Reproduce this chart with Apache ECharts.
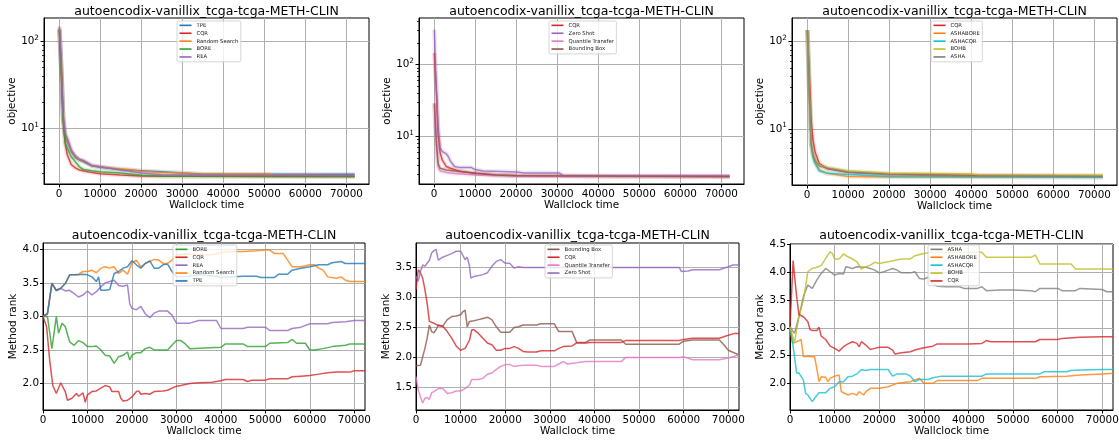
<!DOCTYPE html>
<html><head><meta charset="utf-8">
<script src="https://cdn.jsdelivr.net/npm/echarts@6/dist/echarts.min.js"></script>
<style>html,body{margin:0;padding:0;background:#fff}#c{width:1119px;height:441px}</style>
</head><body><div id="c"></div><script>
// ---------------- DATA ----------------
const TITLE = 'autoencodix-vanillix_tcga-tcga-METH-CLIN';
const logMinorA = [3,4,5,6,7,8,9,20,30,40,50,60,70,80,90];
const logMinorB = [3,4,5,6,7,8,9,20,30,40,50,60,70,80,90,200,300,400];

// top-left (objective, log)
const obj1_TPE = [[100,140],[600,45],[1000,13.5],[1500,8.2],[2000,7.2],[3000,5.4],[4000,4.6],[5000,4.3],[6000,4.1],[7000,3.9],[8000,3.7],[10000,3.55],[15000,3.35],[20000,3.25],[25000,3.15],[30000,3.05],[35000,2.98],[72000,2.96]];
const obj1_CQR = [[100,138],[600,40],[1000,13],[1500,6.7],[2000,5.0],[3000,3.8],[4000,3.5],[5000,3.3],[7000,3.15],[10000,3.0],[15000,2.9],[20000,2.82],[30000,2.8],[50000,2.78],[72000,2.78]];
const obj1_RS = [[100,145],[600,48],[1000,14],[1500,8.5],[2000,7.5],[3000,5.5],[4000,4.7],[5000,4.35],[6000,4.2],[7000,3.95],[8000,3.72],[10000,3.6],[14000,3.43],[17000,3.35],[20000,3.2],[25000,3.1],[30000,3.08],[33000,2.98],[51000,2.98],[52000,2.9],[72000,2.86]];
const obj1_BORE = [[100,136],[600,40],[1000,12.5],[1500,6.9],[2000,5.9],[3000,4.7],[4000,4.1],[5000,3.6],[6000,3.35],[8000,3.25],[10000,3.16],[15000,3.05],[20000,2.88],[25000,2.8],[40000,2.8],[72000,2.78]];
const obj1_REA = [[100,150],[600,50],[1000,14],[1500,8.8],[2000,7.7],[3000,5.6],[4000,4.8],[5000,4.4],[6000,4.25],[7000,3.98],[8000,3.72],[10000,3.6],[15000,3.3],[20000,3.05],[25000,2.92],[40000,2.88],[72000,2.85]];

// top-middle
const obj2_CQR = [[100,145],[600,40],[1000,11],[1500,5.9],[2000,4.7],[3000,3.8],[4000,3.6],[6000,3.3],[10000,3.05],[15000,2.9],[20000,2.84],[40000,2.78],[72000,2.75]];
const obj2_ZS = [[100,308],[400,80],[1000,13.8],[1500,6.9],[2000,6.2],[3000,5.7],[3500,5.2],[4000,4.5],[5000,3.8],[6000,3.7],[9000,3.7],[10000,3.45],[12000,3.3],[20000,3.2],[22000,3.1],[30500,3.1],[31500,2.82],[72000,2.8]];
const obj2_QT = [[100,28],[500,8],[1000,3.8],[1500,3.3],[3000,3.15],[5000,3.05],[10000,2.9],[20000,2.8],[72000,2.75]];
const obj2_BB = [[100,29],[500,10],[1000,4.2],[1500,3.6],[3000,3.4],[5000,3.3],[10000,3.1],[15000,2.9],[20000,2.82],[72000,2.75]];

// top-right
const obj3_CQR = [[100,136],[600,40],[1000,12.5],[1500,7.3],[2000,5.4],[3000,4.0],[5000,3.5],[10000,3.2],[20000,3.05],[40000,2.95],[72000,2.9]];
const obj3_ASHABORE = [[100,136],[500,30],[1000,6.7],[1500,4.9],[2000,4.1],[3000,3.4],[5000,3.1],[10000,2.85],[20000,2.82],[72000,2.8]];
const obj3_ASHACQR = [[100,136],[500,30],[1000,6.5],[1500,4.7],[2000,4.0],[3000,3.3],[5000,3.1],[10000,3.0],[20000,2.85],[72000,2.8]];
const obj3_BOHB = [[100,136],[500,32],[1000,7],[1500,5.2],[2000,4.5],[3000,3.85],[5000,3.6],[10000,3.3],[20000,3.1],[40000,3.05],[42000,2.97],[72000,2.95]];
const obj3_ASHA = [[100,136],[500,32],[1000,6.9],[1500,5],[2000,4.3],[3000,3.75],[5000,3.55],[10000,3.2],[20000,2.99],[40000,2.9],[72000,2.85]];

// bottom-left (rank)
const rank1_BORE = [[0,3.0],[1000,3.0],[2000,2.52],[3000,3.0],[3500,2.75],[4300,2.9],[5000,2.85],[6000,2.62],[7000,2.57],[8000,2.64],[9000,2.61],[10000,2.55],[11000,2.55],[12000,2.56],[13000,2.5],[14000,2.42],[15000,2.41],[16000,2.3],[17000,2.4],[18000,2.42],[19000,2.47],[19500,2.35],[20000,2.42],[21000,2.46],[22000,2.46],[23000,2.52],[24000,2.54],[25000,2.5],[28000,2.5],[29000,2.57],[30000,2.64],[31000,2.64],[32000,2.59],[33000,2.52],[40000,2.54],[41000,2.59],[45000,2.59],[46000,2.55],[50000,2.55],[51000,2.6],[55000,2.61],[56000,2.66],[57000,2.6],[59000,2.6],[60000,2.5],[61000,2.5],[63000,2.52],[65000,2.55],[68000,2.57],[69000,2.59],[72400,2.59]];
const rank1_CQR = [[0,3.0],[800,2.85],[1500,2.35],[2200,1.97],[3000,1.85],[4000,2.01],[5000,1.88],[5500,1.75],[6500,1.78],[7500,1.85],[8000,1.81],[9000,1.86],[9500,1.72],[10000,1.83],[11000,1.88],[12000,1.89],[13000,1.93],[14000,1.97],[15000,1.95],[15500,1.88],[17000,1.88],[17500,1.78],[18000,1.74],[19000,1.75],[20000,1.8],[21000,1.88],[21500,1.89],[22000,1.84],[23000,1.85],[24000,1.84],[25000,1.88],[27000,1.89],[28000,1.9],[30000,1.96],[31000,1.97],[33000,2.0],[35000,2.01],[38000,2.02],[40000,2.04],[41000,2.06],[45000,2.06],[46000,2.03],[47000,2.05],[50000,2.05],[51000,2.07],[55000,2.07],[56000,2.1],[58000,2.11],[60000,2.12],[62000,2.14],[64000,2.16],[66000,2.17],[69000,2.17],[70000,2.19],[72400,2.19]];
const rank1_REA = [[0,3.0],[1000,3.04],[2000,3.5],[3000,3.38],[4000,3.42],[5000,3.38],[6000,3.39],[7000,3.34],[8000,3.29],[9000,3.32],[10000,3.38],[11000,3.32],[12000,3.37],[13000,3.44],[14000,3.5],[15000,3.52],[16000,3.54],[17000,3.46],[18000,3.45],[19000,3.47],[19500,3.19],[20000,3.12],[21000,3.1],[22000,3.15],[23000,3.04],[24000,2.98],[25000,3.05],[26000,3.08],[28000,3.08],[29000,3.02],[30000,2.9],[33000,2.9],[35000,2.94],[39000,2.94],[40000,2.82],[45000,2.82],[46000,2.84],[50000,2.84],[51000,2.79],[55000,2.79],[56000,2.82],[58000,2.84],[60000,2.89],[64000,2.89],[65000,2.91],[68000,2.92],[70000,2.94],[72400,2.94]];
const rank1_RS = [[0,3.0],[1000,3.04],[2000,3.49],[3000,3.39],[4000,3.42],[5000,3.49],[6000,3.62],[7000,3.62],[8000,3.63],[9000,3.67],[10000,3.67],[11000,3.69],[12000,3.65],[13000,3.72],[14000,3.74],[15000,3.72],[16000,3.74],[17000,3.64],[18000,3.69],[19000,3.63],[20000,3.8],[21000,3.84],[22000,3.74],[23000,3.79],[25000,3.85],[26000,3.84],[27000,3.79],[28000,3.79],[29000,3.84],[30000,3.92],[32000,3.93],[35000,3.92],[38000,3.92],[40000,3.95],[42000,3.97],[45000,3.97],[48000,3.98],[50000,3.99],[51000,3.99],[52000,3.94],[54000,3.94],[55000,3.84],[56000,3.74],[58000,3.74],[60000,3.77],[61000,3.77],[62000,3.72],[63000,3.69],[64000,3.59],[66000,3.57],[67000,3.59],[68000,3.54],[69000,3.52],[72400,3.52]];
const rank1_TPE = [[0,3.0],[1000,3.04],[2000,3.49],[3000,3.39],[4000,3.42],[5000,3.49],[6000,3.62],[7000,3.62],[8000,3.62],[9000,3.63],[10000,3.62],[11000,3.59],[12000,3.52],[12500,3.59],[13000,3.39],[14000,3.39],[15000,3.4],[16000,3.64],[17000,3.67],[18000,3.72],[19000,3.74],[20000,3.83],[21000,3.77],[22000,3.72],[23000,3.79],[24000,3.83],[25000,3.72],[26000,3.72],[27000,3.77],[28000,3.78],[29000,3.67],[30000,3.59],[33000,3.6],[35000,3.62],[39000,3.6],[40000,3.58],[45000,3.6],[48000,3.6],[49000,3.58],[52000,3.58],[53000,3.63],[55000,3.63],[56000,3.69],[58000,3.72],[60000,3.74],[62000,3.77],[64000,3.77],[65000,3.8],[67000,3.82],[68000,3.79],[70000,3.79],[72400,3.79]];

// bottom-middle
const rank2_BB = [[0,1.86],[1000,1.87],[2000,2.15],[2500,2.32],[3000,2.54],[3500,2.43],[4000,2.41],[4500,2.46],[5000,2.54],[6000,2.52],[7000,2.63],[8000,2.68],[9000,2.69],[10000,2.71],[10500,2.76],[11000,2.79],[11500,2.51],[12000,2.6],[13000,2.61],[14000,2.63],[15000,2.65],[16000,2.67],[17000,2.63],[18000,2.51],[19000,2.42],[21000,2.42],[22000,2.5],[23000,2.51],[24000,2.54],[27000,2.54],[28000,2.56],[31000,2.56],[32000,2.43],[35000,2.43],[36000,2.25],[38000,2.25],[39000,2.29],[46000,2.29],[47000,2.22],[59000,2.22],[60000,2.27],[62000,2.29],[68000,2.29],[69000,2.21],[70000,2.12],[72400,2.04]];
const rank2_CQR = [[0,3.13],[500,3.46],[800,3.46],[1000,3.41],[1500,3.32],[2000,3.13],[2500,2.9],[3000,2.6],[4000,2.57],[5000,2.53],[6000,2.52],[7000,2.43],[8000,2.32],[9000,2.19],[10000,2.12],[11000,2.15],[12000,2.29],[12500,2.46],[13000,2.46],[14000,2.4],[15000,2.32],[16000,2.24],[17000,2.21],[18000,2.12],[19000,2.12],[20000,2.15],[21000,2.15],[22000,2.18],[23000,2.15],[24000,2.1],[25000,2.09],[27000,2.09],[28000,2.11],[31000,2.11],[32000,2.15],[33000,2.18],[35000,2.19],[36000,2.24],[38000,2.24],[39000,2.25],[46000,2.25],[47000,2.28],[59000,2.28],[60000,2.3],[62000,2.32],[68000,2.32],[70000,2.37],[71500,2.4],[72400,2.4]];
const rank2_QT = [[0,1.68],[500,1.46],[1000,1.34],[1500,1.24],[2000,1.32],[2500,1.33],[3000,1.3],[3500,1.41],[4000,1.43],[5000,1.48],[6000,1.48],[7000,1.4],[8000,1.41],[9000,1.44],[10000,1.44],[11000,1.48],[12000,1.54],[12500,1.63],[14000,1.63],[15000,1.65],[16000,1.72],[17000,1.74],[18000,1.8],[19000,1.85],[20000,1.88],[21000,1.88],[22000,1.85],[23000,1.86],[24000,1.87],[27000,1.87],[28000,1.85],[31000,1.85],[32000,1.89],[33000,1.93],[34000,1.89],[36000,1.91],[38000,1.93],[46000,1.93],[47000,2.0],[59000,2.0],[60000,2.01],[62000,1.96],[68000,1.96],[70000,1.99],[72400,2.04]];
const rank2_ZS = [[0,3.35],[500,3.27],[1000,3.43],[1500,3.54],[2000,3.52],[2500,3.57],[3000,3.62],[3500,3.74],[4000,3.78],[4500,3.8],[5000,3.62],[6000,3.67],[7000,3.7],[8000,3.73],[9000,3.77],[10000,3.77],[11000,3.63],[11500,3.67],[12000,3.52],[12300,3.32],[13000,3.35],[15000,3.38],[16000,3.41],[17000,3.52],[18000,3.6],[19000,3.63],[20000,3.57],[21000,3.57],[22000,3.49],[23000,3.51],[24000,3.5],[59000,3.5],[59500,3.43],[61000,3.44],[62000,3.46],[68000,3.46],[70000,3.51],[71000,3.54],[72400,3.54]];

// bottom-right
const rank3_ASHA = [[0,3.02],[1000,2.9],[2000,3.2],[3000,3.56],[4000,3.77],[5000,3.71],[6000,3.86],[7000,3.98],[8000,4.07],[9000,4.01],[10000,3.95],[11000,3.98],[12000,3.97],[12500,4.1],[13000,4.09],[14000,4.07],[15000,4.1],[17000,4.09],[18000,4.07],[19000,4.04],[20000,3.99],[21000,4.01],[22000,4.04],[23000,4.07],[24000,4.04],[25000,3.99],[27000,3.99],[28000,4.01],[29000,3.89],[30000,3.88],[31000,3.91],[32000,3.8],[33000,3.75],[35000,3.74],[38000,3.74],[39000,3.71],[42000,3.71],[43000,3.74],[44000,3.67],[47000,3.68],[50000,3.68],[54000,3.67],[55000,3.65],[56000,3.71],[60000,3.71],[61000,3.67],[64000,3.67],[65000,3.71],[70000,3.69],[71000,3.65],[72400,3.65]];
const rank3_ASHABORE = [[0,3.02],[500,2.73],[1000,2.73],[2000,2.77],[2500,2.79],[3000,2.48],[4000,2.49],[5000,2.48],[5500,2.48],[6000,2.27],[6500,2.03],[7000,2.12],[8000,2.11],[8500,2.03],[9000,2.09],[10000,2.13],[11000,2.15],[11500,1.85],[12000,1.83],[13000,1.79],[14000,1.82],[15000,1.79],[15500,1.85],[16500,1.79],[17000,1.85],[18000,1.91],[20000,1.91],[22000,1.94],[24000,2.0],[25000,2.01],[27000,2.03],[28000,2.06],[29000,2.09],[30000,2.0],[32000,2.0],[33000,2.05],[42000,2.05],[43000,2.09],[55000,2.09],[56000,2.12],[62000,2.13],[65000,2.15],[70000,2.17],[72400,2.18]];
const rank3_ASHACQR = [[0,3.02],[500,2.78],[1000,2.48],[1500,2.18],[2000,2.19],[3000,2.06],[3500,1.82],[4000,1.79],[5000,1.67],[5500,1.73],[6500,1.83],[8000,1.83],[9000,1.91],[10000,1.94],[11000,2.03],[12000,2.03],[13000,2.12],[14000,2.13],[15000,2.17],[16000,2.25],[17000,2.23],[18000,2.25],[22000,2.25],[23000,2.13],[24000,2.17],[26000,2.17],[27000,2.13],[28000,2.03],[29000,2.07],[31000,2.07],[32000,2.1],[34000,2.13],[43000,2.13],[44000,2.17],[56000,2.17],[57000,2.21],[62000,2.21],[63000,2.23],[65000,2.24],[70000,2.25],[72400,2.25]];
const rank3_BOHB = [[0,3.02],[1000,2.73],[2000,3.2],[3000,3.5],[4000,4.01],[5000,4.07],[6000,4.09],[7000,4.12],[8000,4.25],[9000,4.37],[9500,4.34],[10000,4.24],[11000,4.24],[12000,4.33],[13000,4.28],[14000,4.24],[15000,4.19],[16000,4.06],[17000,4.1],[18000,4.13],[19000,4.18],[20000,4.16],[22000,4.19],[25000,4.24],[27000,4.24],[28000,4.3],[30000,4.34],[32000,4.36],[43000,4.36],[44000,4.27],[54000,4.27],[55000,4.31],[56000,4.15],[63000,4.15],[64000,4.06],[72400,4.06]];
const rank3_CQR = [[0,3.02],[700,4.21],[1000,3.95],[1500,3.56],[2000,3.24],[3000,3.2],[4000,3.11],[4500,2.97],[5000,2.95],[6000,2.95],[6500,3.01],[7000,2.85],[8000,2.79],[9000,2.67],[10000,2.63],[11000,2.58],[12000,2.66],[13000,2.71],[14000,2.75],[15000,2.72],[15500,2.66],[16000,2.75],[17000,2.69],[18000,2.61],[19000,2.63],[20000,2.65],[22000,2.65],[23000,2.6],[23500,2.53],[25000,2.55],[27000,2.57],[28000,2.6],[30000,2.64],[32000,2.67],[33000,2.71],[40000,2.71],[43000,2.72],[44000,2.77],[45000,2.75],[55000,2.75],[56000,2.79],[60000,2.79],[61000,2.81],[65000,2.83],[70000,2.84],[72400,2.84]];

// ---------------- STYLE / LAYOUT ----------------
const FONT = 'DejaVu Sans';
const C = {blue:'#1f77b4', orange:'#ff7f0e', green:'#2ca02c', red:'#d62728', purple:'#9467bd', brown:'#8c564b', pink:'#e377c2', gray:'#7f7f7f', olive:'#bcbd22', cyan:'#17becf'};
const panels = [
  {grid:{left:44, top:18, width:325, height:166}, log:true, ymin:2.28, ymax:187, minor:logMinorA, yname:'objective', legend:{left:177, top:21},
   series:[['TPE',obj1_TPE,C.blue],['CQR',obj1_CQR,C.red],['Random Search',obj1_RS,C.orange],['BORE',obj1_BORE,C.green],['REA',obj1_REA,C.purple]]},
  {grid:{left:419, top:18, width:325, height:166}, log:true, ymin:2.17, ymax:448, minor:logMinorB, yname:'objective', legend:{left:549, top:21},
   series:[['CQR',obj2_CQR,C.red],['Zero Shot',obj2_ZS,C.purple],['Quantile Transfer',obj2_QT,C.pink],['Bounding Box',obj2_BB,C.brown]]},
  {grid:{left:792, top:18, width:325, height:167}, log:true, ymin:2.28, ymax:187, minor:logMinorA, yname:'objective', legend:{left:931, top:21},
   series:[['CQR',obj3_CQR,C.red],['ASHABORE',obj3_ASHABORE,C.orange],['ASHACQR',obj3_ASHACQR,C.cyan],['BOHB',obj3_BOHB,C.olive],['ASHA',obj3_ASHA,C.gray]]},
  {grid:{left:43, top:243, width:322, height:167}, log:false, ymin:1.605, ymax:4.095, yname:'Method rank', legend:{left:173, top:245},
   series:[['BORE',rank1_BORE,C.green],['CQR',rank1_CQR,C.red],['REA',rank1_REA,C.purple],['Random Search',rank1_RS,C.orange],['TPE',rank1_TPE,C.blue]]},
  {grid:{left:416, top:243, width:323, height:167}, log:false, ymin:1.123, ymax:3.907, yname:'Method rank', legend:{left:545, top:245},
   series:[['Bounding Box',rank2_BB,C.brown],['CQR',rank2_CQR,C.red],['Quantile Transfer',rank2_QT,C.pink],['Zero Shot',rank2_ZS,C.purple]]},
  {grid:{left:790, top:244, width:323, height:166}, log:false, ymin:1.52, ymax:4.51, yname:'Method rank', legend:{left:928, top:245},
   series:[['ASHA',rank3_ASHA,C.gray],['ASHABORE',rank3_ASHABORE,C.orange],['ASHACQR',rank3_ASHACQR,C.cyan],['BOHB',rank3_BOHB,C.olive],['CQR',rank3_CQR,C.red]]}
];

const grid = [], xAxis = [], yAxis = [], series = [], legend = [], title = [];
const tickLabel = {fontFamily:FONT, fontSize:10.4, color:'#000'};
const nameStyle = {fontFamily:FONT, fontSize:10.4, color:'#000'};
panels.forEach((p, i) => {
  grid.push(Object.assign({show:true, borderColor:'#000', borderWidth:1, backgroundColor:'transparent', containLabel:false, outerBoundsMode:'none'}, p.grid));
  const top = i < 3;
  xAxis.push({
    type:'value', gridIndex:i,
    min: top ? -3650 : 0, max: top ? 75500 : 72400,
    minInterval:10000, maxInterval:10000,
    name:'Wallclock time', nameLocation:'middle', nameGap: top ? 15 : 14, nameTextStyle:nameStyle,
    axisLine:{show:true, onZero:false, lineStyle:{color:'#000', width:1}},
    axisTick:{show:true, length:3.5, lineStyle:{color:'#000', width:1}},
    axisLabel:Object.assign({margin:5, showMinLabel: !top, showMaxLabel:false, formatter:v => String(v)}, tickLabel),
    splitLine:{show:true, showMinLine:false, showMaxLine:false, lineStyle:{color:'#b0b0b0', width:1}}
  });
  if (p.log) {
    yAxis.push({
      type:'log', logBase:10, gridIndex:i, min:p.ymin, max:p.ymax,
      name:p.yname, nameLocation:'middle', nameGap:20.5, nameTextStyle:nameStyle,
      axisLine:{show:true, onZero:false, lineStyle:{color:'#000', width:1}},
      axisTick:{show:true, length:3.5, lineStyle:{color:'#000', width:1}},
      axisLabel:{margin:5, showMinLabel:false, showMaxLabel:false,
        formatter:v => { const e = Math.round(Math.log10(v)); return '{b|10}{s|' + e + '}'; },
        rich:{b:{fontFamily:FONT, fontSize:10.4, color:'#000', lineHeight:14}, s:{fontFamily:FONT, fontSize:7.3, color:'#000', verticalAlign:'top', lineHeight:8}}},
      splitLine:{show:true, showMinLine:false, showMaxLine:false, lineStyle:{color:'#b0b0b0', width:1}}
    });
  } else {
    yAxis.push({
      type:'value', gridIndex:i, min:p.ymin, max:p.ymax, minInterval:0.5, maxInterval:0.5,
      name:p.yname, nameLocation:'middle', nameGap:19.5, nameTextStyle:nameStyle,
      axisLine:{show:true, onZero:false, lineStyle:{color:'#000', width:1}},
      axisTick:{show:true, length:3, lineStyle:{color:'#000', width:1}},
      axisLabel:Object.assign({margin:4, showMinLabel:false, showMaxLabel:false, formatter:v => v.toFixed(1)}, tickLabel),
      splitLine:{show:true, showMinLine:false, showMaxLine:false, lineStyle:{color:'#b0b0b0', width:1}}
    });
  }
  title.push({text:TITLE, left:p.grid.left + p.grid.width/2, top: top ? 5 : 229, textAlign:'center', padding:0,
    textStyle:{fontFamily:FONT, fontSize:12.5, fontWeight:'normal', color:'#000'}});
  const names = [];
  p.series.forEach(([name, data, color]) => {
    names.push(name);
    if (top) {
      // faint spread band under each mean curve
      series.push({type:'line', xAxisIndex:i, yAxisIndex:i, data, symbol:'none', showSymbol:false, silent:true, z:1,
        lineStyle:{color, width:4.5, opacity:0.15}, emphasis:{disabled:true}, animation:false});
    }
    series.push({type:'line', name, xAxisIndex:i, yAxisIndex:i, data, symbol:'none', showSymbol:false, z:2,
      lineStyle:{color, width:1.5, opacity:0.8}, itemStyle:{color}, emphasis:{disabled:true}, animation:false});
  });
  legend.push({data:names, orient:'vertical', left:p.legend.left, top:p.legend.top, icon:'rect', itemWidth:12, itemHeight:1.6, itemGap:1.2,
    padding:[1,2.5,1.5,2.5], backgroundColor:'rgba(255,255,255,0.8)', borderColor:'#cccccc', borderWidth:0.8, borderRadius:1.5,
    textStyle:{fontFamily:FONT, fontSize:5.3, color:'#222', lineHeight:6.7}, selectedMode:false, z:10});
});
// minor log ticks
panels.forEach((p, i) => {
  if (!p.log) return;
  yAxis.push({type:'log', logBase:10, gridIndex:i, min:p.ymin, max:p.ymax, position:'left',
    axisLine:{show:false, onZero:false}, axisLabel:{show:false}, splitLine:{show:false},
    axisTick:{show:true, length:2, customValues:p.minor, lineStyle:{color:'#000', width:0.8}}});
});

const chart = echarts.init(document.getElementById('c'), null, {renderer:'canvas'});
chart.setOption({animation:false, backgroundColor:'#fff', title, grid, xAxis, yAxis, series, legend, tooltip:{show:false}});
</script></body></html>
